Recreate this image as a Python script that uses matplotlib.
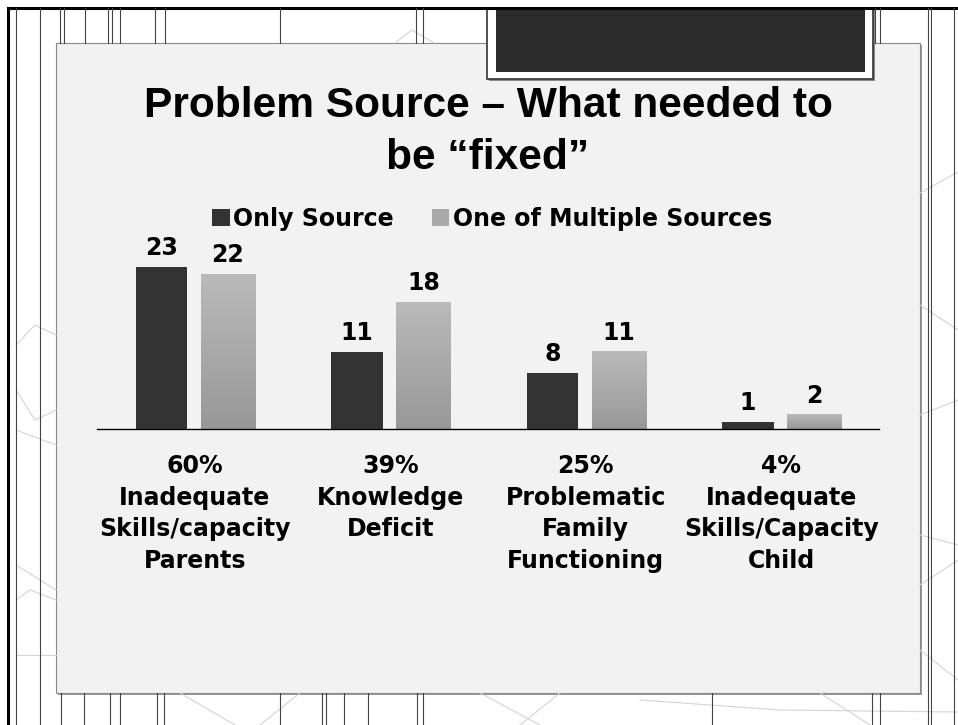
import numpy as np
import matplotlib.pyplot as plt
from matplotlib.patches import Rectangle
from matplotlib.colors import LinearSegmentedColormap

# chart data
categories = ["60%\nInadequate\nSkills/capacity\nParents",
              "39%\nKnowledge\nDeficit",
              "25%\nProblematic\nFamily\nFunctioning",
              "4%\nInadequate\nSkills/Capacity\nChild"]
only_source = [23, 11, 8, 1]
multiple_sources = [22, 18, 11, 2]
series_names = ["Only Source", "One of Multiple Sources"]
title_lines = ["Problem Source \u2013 What needed to", "be \u201cfixed\u201d"]

W, H = 958, 725
fig = plt.figure(figsize=(W / 100, H / 100), dpi=100)
fig.patch.set_facecolor("white")

# slide background, drawn in pixel coords (y down)
bg = fig.add_axes([0, 0, 1, 1])
bg.set_xlim(0, W)
bg.set_ylim(H, 0)
bg.axis("off")

# faint pattern lines
faint = [
    [(395, 43), (412, 30), (434, 43)],
    [(16, 345), (35, 325), (56, 335)],
    [(16, 390), (35, 420), (56, 410)],
    [(16, 430), (56, 445)],
    [(16, 565), (56, 590)],
    [(16, 600), (30, 590), (56, 600)],
    [(16, 655), (56, 655)],
    [(920, 193), (958, 172)],
    [(920, 305), (958, 330)],
    [(920, 415), (958, 400)],
    [(920, 535), (958, 545)],
    [(920, 585), (958, 560)],
    [(920, 650), (958, 680)],
    [(180, 693), (235, 725)],
    [(260, 725), (300, 693)],
    [(480, 693), (540, 725)],
    [(520, 725), (560, 693)],
    [(820, 693), (870, 725)],
    [(640, 700), (780, 710), (958, 712)],
]
for seg in faint:
    xs, ys = zip(*seg)
    bg.plot(xs, ys, color="#d4d4d4", lw=0.8)

# outer border
bg.plot([8, W], [8, 8], color="black", lw=2.2)
bg.plot([8, 8], [8, H], color="black", lw=2.2)
for xv in [16, 40, 928, 931, 954]:
    bg.plot([xv, xv], [8, H], color="#444444", lw=0.8)
for xv in [60, 64, 85, 108, 112, 120, 155, 165, 280, 416, 423, 875, 880]:
    bg.plot([xv, xv], [8, 43], color="#444444", lw=0.8)
for xv in [61, 84, 110, 120, 157, 164, 280, 322, 326, 344, 368, 417, 423, 712, 872, 880]:
    bg.plot([xv, xv], [693, H], color="#444444", lw=0.8)

# content panel with slight shadow
bg.add_patch(Rectangle((58, 45), 864, 650, facecolor="#9a9a9a", edgecolor="none"))
bg.add_patch(Rectangle((56, 43), 864, 650, facecolor="#f2f2f2", edgecolor="#8a8a8a", lw=0.8))

# dark header box
bg.add_patch(Rectangle((489, 8), 386, 73, facecolor="#8a8a8a", edgecolor="none"))
bg.add_patch(Rectangle((487, 8), 386, 71, facecolor="white", edgecolor="#333333", lw=1.2))
bg.add_patch(Rectangle((496, 8), 369, 64, facecolor="#2a2a2a", edgecolor="none"))

# title
for i, line in enumerate(title_lines):
    fig.text(488 / W, 1 - (117 + 52 * i) / H, line, ha="center", va="baseline",
             fontsize=30.6, fontweight="bold", family="Liberation Sans")

# chart
ax = fig.add_axes([97 / W, (H - 429) / H, (879 - 97) / W, (429 - 253) / H])
ax.patch.set_alpha(0)
x = np.arange(len(categories))
b1 = ax.bar(x - 0.17, only_source, 0.265, color="#333333")
b2 = ax.bar(x + 0.17, multiple_sources, 0.28, color="#a9a9a9")

grad_cmap = LinearSegmentedColormap.from_list("g", ["#989898", "#bababa"])
grad = np.linspace(0, 1, 100).reshape(-1, 1)
for r in b2:
    ax.imshow(grad, extent=[r.get_x(), r.get_x() + r.get_width(), 0, r.get_height()],
              origin="lower", aspect="auto", cmap=grad_cmap, zorder=2)

ax.set_xlim(-0.5, 3.5)
ax.set_ylim(0, 25)
for s in ["top", "left", "right"]:
    ax.spines[s].set_visible(False)
ax.spines["bottom"].set_linewidth(1.0)
ax.spines["bottom"].set_color("black")
ax.set_xticks([])
ax.set_yticks([])

for bars in [b1, b2]:
    for r in bars:
        ax.annotate(str(int(r.get_height())), (r.get_x() + r.get_width() / 2, r.get_height()),
                    xytext=(0, 8.6), textcoords="offset points", ha="center", va="baseline",
                    fontsize=17, fontweight="bold")

# category labels, one line at a time
for i, lab in enumerate(categories):
    for j, line in enumerate(lab.split("\n")):
        ax.annotate(line, (i, 0), xycoords=("data", "axes fraction"),
                    xytext=(0, -(44 + 31.7 * j) * 0.72), textcoords="offset points",
                    ha="center", va="baseline", fontsize=17, fontweight="bold",
                    annotation_clip=False)

ax.legend([b1, b2], series_names, ncol=2, loc="center",
          bbox_to_anchor=(492 / W, 1 - 219 / H), bbox_transform=fig.transFigure,
          frameon=False, prop=dict(weight="bold", size=17),
          handlelength=0.75, handleheight=0.75, handletextpad=0.15, columnspacing=1.6)

fig.savefig("out.png", dpi=100)
